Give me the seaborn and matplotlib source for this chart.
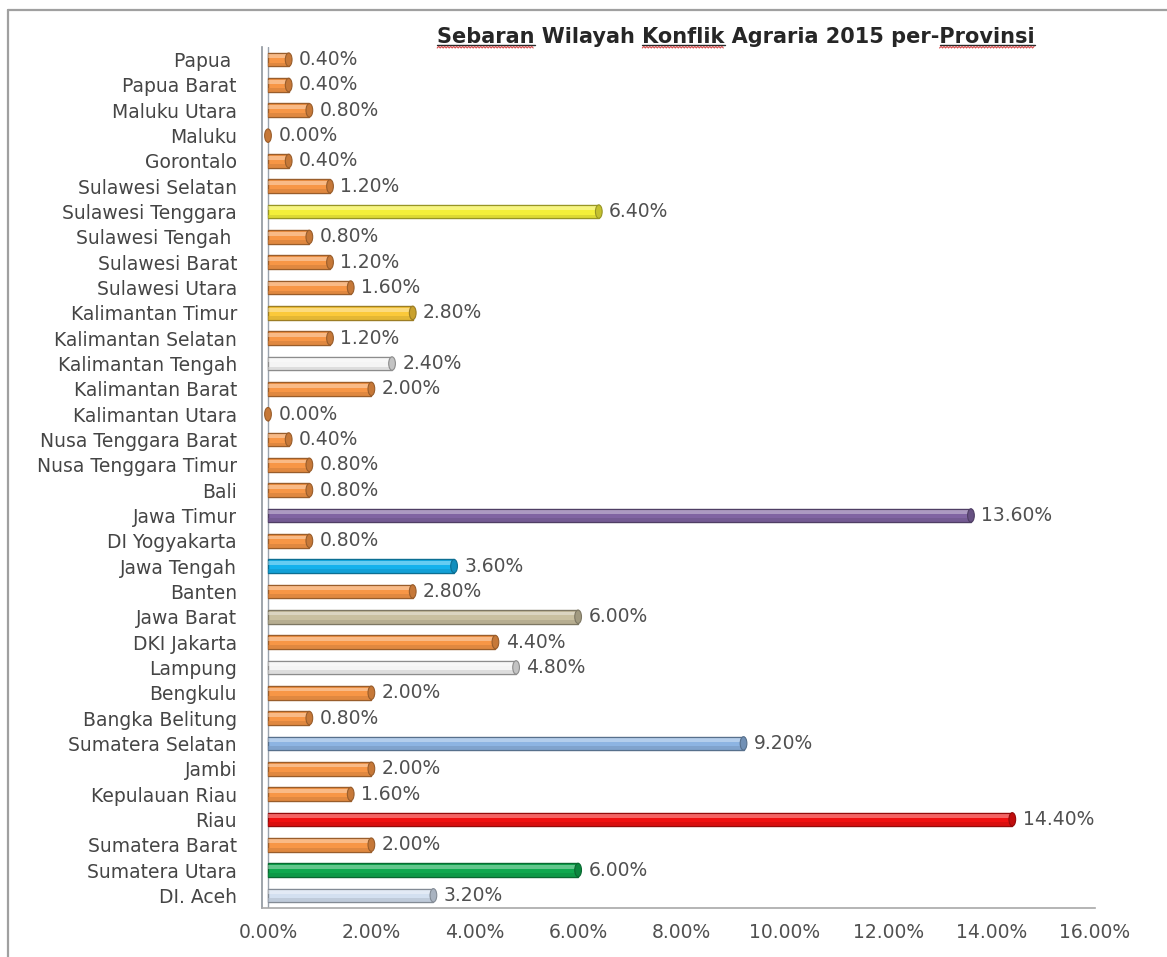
import matplotlib
matplotlib.use("Agg")
import matplotlib.pyplot as plt
import matplotlib.colors as mcolors
from matplotlib.patches import Rectangle, Ellipse
from matplotlib.lines import Line2D
import numpy as np
import seaborn as sns
import pandas as pd

provinces = [
    "Papua ", "Papua Barat", "Maluku Utara", "Maluku", "Gorontalo",
    "Sulawesi Selatan", "Sulawesi Tenggara", "Sulawesi Tengah ", "Sulawesi Barat",
    "Sulawesi Utara", "Kalimantan Timur", "Kalimantan Selatan", "Kalimantan Tengah",
    "Kalimantan Barat", "Kalimantan Utara", "Nusa Tenggara Barat", "Nusa Tenggara Timur",
    "Bali", "Jawa Timur", "DI Yogyakarta", "Jawa Tengah", "Banten", "Jawa Barat",
    "DKI Jakarta", "Lampung", "Bengkulu", "Bangka Belitung", "Sumatera Selatan",
    "Jambi", "Kepulauan Riau", "Riau", "Sumatera Barat", "Sumatera Utara", "DI. Aceh",
]
shares = [
    0.40, 0.40, 0.80, 0.00, 0.40,
    1.20, 6.40, 0.80, 1.20,
    1.60, 2.80, 1.20, 2.40,
    2.00, 0.00, 0.40, 0.80,
    0.80, 13.60, 0.80, 3.60, 2.80, 6.00,
    4.40, 4.80, 2.00, 0.80, 9.20,
    2.00, 1.60, 14.40, 2.00, 6.00, 3.20,
]
base_color = "#F79646"
highlight_colors = {
    "Sulawesi Tenggara": "#F4F03A",
    "Kalimantan Timur": "#FBC93A",
    "Kalimantan Tengah": "#F4F4F4",
    "Jawa Timur": "#8064A2",
    "Jawa Tengah": "#14B1EC",
    "Jawa Barat": "#C9C0A0",
    "Lampung": "#F4F4F4",
    "Sumatera Selatan": "#8DB4E2",
    "Riau": "#F01010",
    "Sumatera Utara": "#0FA94F",
    "DI. Aceh": "#D3E0F0",
}
x_ticks = [0, 2, 4, 6, 8, 10, 12, 14, 16]
title = "Sebaran Wilayah Konflik Agraria 2015 per-Provinsi"
flagged_words = ["Sebaran", "Konflik", "Provinsi"]

bar_colors = [highlight_colors.get(p, base_color) for p in provinces]

sns.set_theme(style="white")
plt.rcParams["font.family"] = ["DejaVu Sans"]

df = pd.DataFrame({"provinsi": provinces, "persen": shares})

W, H = 1167, 957
fig = plt.figure(figsize=(W / 100, H / 100), dpi=100)
fig.patch.set_facecolor("white")

ax_left, ax_right = 262, 1095
ax_top, ax_bottom = 47, 908
ax = fig.add_axes([ax_left / W, 1 - ax_bottom / H,
                   (ax_right - ax_left) / W, (ax_bottom - ax_top) / H])

sns.barplot(data=df, y="provinsi", x="persen", hue="provinsi",
            palette=bar_colors, legend=False, orient="h", width=0.54,
            saturation=1, ax=ax, zorder=3)

ax.set_xlim(-0.116, 16)

text_color = "#505050"


def darker(c, f=0.72):
    r, g, b = mcolors.to_rgb(c)
    return (r * f, g * f, b * f)


def edge_for(c):
    r, g, b = mcolors.to_rgb(c)
    if min(r, g, b) > 0.85:
        return (0.55, 0.55, 0.55)
    return darker(c, 0.62)


# cylinder-like shading on each bar
cap_w = 0.13
for patch, col, val in zip(ax.patches, bar_colors, shares):
    x0, y0 = patch.get_x(), patch.get_y()
    w, h = patch.get_width(), patch.get_height()
    ec = edge_for(col)
    patch.set_edgecolor(ec)
    patch.set_linewidth(1.0)
    if w > 0:
        ax.add_patch(Rectangle((x0, y0 + 0.12 * h), w, 0.28 * h,
                               facecolor="white", alpha=0.35, lw=0, zorder=4))
        ax.add_patch(Rectangle((x0, y0 + 0.72 * h), w, 0.28 * h,
                               facecolor=darker(col, 0.85), alpha=0.6, lw=0, zorder=4))
    ax.add_patch(Ellipse((x0 + w, y0 + h / 2), cap_w, h * 0.98,
                         facecolor=darker(col, 0.8), edgecolor=ec, lw=0.8, zorder=5))
    ax.annotate(f"{val:.2f}%", (x0 + w + cap_w / 2, y0 + h / 2),
                xytext=(5, 0), textcoords="offset points", va="center", ha="left",
                fontsize=13.5, color=text_color, zorder=6)

# back wall line at zero
ax.axvline(0, color="#9AA3AD", lw=1.0, zorder=1)

ax.set_xticks(x_ticks)
ax.set_xticklabels([f"{t:.2f}%" for t in x_ticks], fontsize=13.5, color=text_color)
ax.tick_params(axis="y", labelsize=13.5, labelcolor="#454545", length=0, pad=18)
ax.tick_params(axis="x", length=0, pad=11)
ax.set_xlabel("")
ax.set_ylabel("")
for side in ("top", "right"):
    ax.spines[side].set_visible(False)
ax.spines["left"].set_color("#8E959C")
ax.spines["bottom"].set_color("#A8A8A8")
ax.spines["left"].set_linewidth(1.2)
ax.spines["bottom"].set_linewidth(1.2)

title_kw = dict(fontsize=15, fontweight="bold", color="#262626")
tx, ty = 736, 37
title_text = fig.text(tx / W, 1 - ty / H, title, ha="center", va="center", **title_kw)

# underline plus wavy proofing mark beneath flagged title words
fig.canvas.draw()
renderer = fig.canvas.get_renderer()
tb = title_text.get_window_extent(renderer)


def text_width(s):
    t = fig.text(0, 0, s, **title_kw)
    wdt = t.get_window_extent(renderer).width
    t.remove()
    return wdt


for word in flagged_words:
    start = title.index(word)
    x_start = tb.x0 + text_width(title[:start]) if start else tb.x0
    x_end = tb.x0 + text_width(title[:start + len(word)])
    base_y = tb.y0 + 2.0
    fig.add_artist(Line2D([x_start / W, x_end / W], [base_y / H, base_y / H],
                          color="#2A2A2A", lw=1.0))
    xs = np.arange(x_start, x_end, 1.5)
    ys = base_y - 3.0 + np.where(np.arange(len(xs)) % 2 == 0, 0.0, 1.6)
    fig.add_artist(Line2D(xs / W, ys / H, color="#D84A4A", lw=0.8))

# page frame
fig.add_artist(Line2D([8 / W, 1], [1 - 10 / H, 1 - 10 / H], color="#A0A0A0", lw=1.6))
fig.add_artist(Line2D([8 / W, 8 / W], [0, 1 - 10 / H], color="#A0A0A0", lw=1.6))

fig.savefig("out.png", dpi=100, facecolor="white")
